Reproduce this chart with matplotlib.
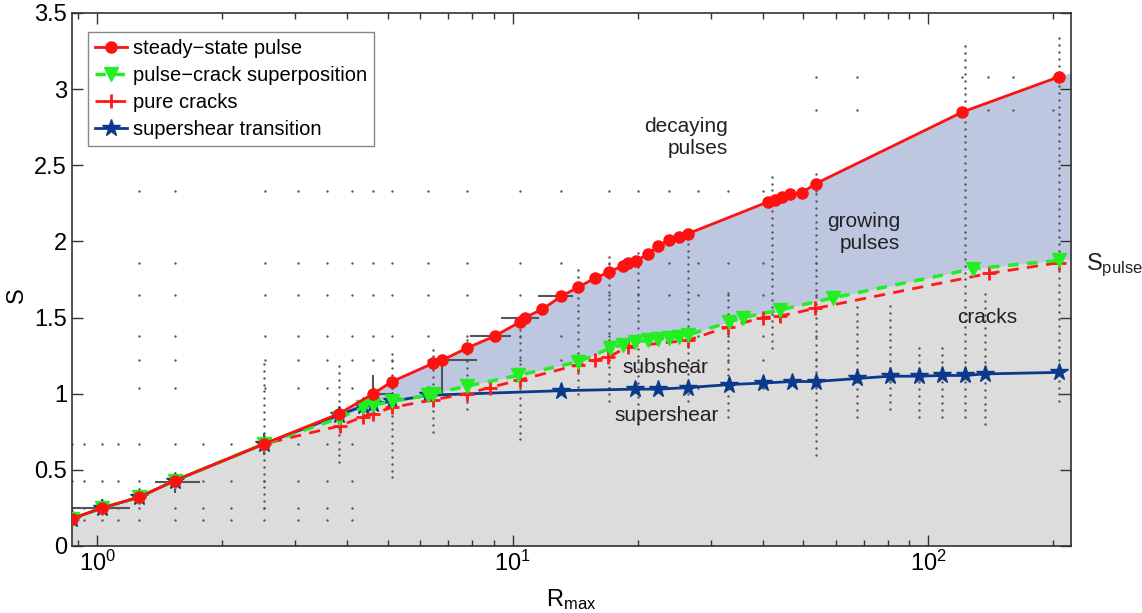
import numpy as np
import matplotlib
matplotlib.use('Agg')
import matplotlib.pyplot as plt
from matplotlib.ticker import FormatStrFormatter, LogLocator

plt.rcParams['font.family'] = ['Liberation Sans', 'DejaVu Sans']
plt.rcParams['mathtext.fontset'] = 'custom'
plt.rcParams['mathtext.rm'] = 'Liberation Sans'
plt.rcParams['mathtext.it'] = 'Liberation Sans'

# steady-state pulse
pulse_r = [0.87, 1.03, 1.26, 1.54, 2.52, 3.83, 4.62, 5.13, 6.44, 6.77, 7.77, 9.08,
           10.4, 10.7, 11.8, 13.1, 14.4, 15.8, 17.1, 18.4, 19.0, 19.8, 21.2, 22.4,
           23.8, 25.2, 26.4, 41.2, 42.8, 44.5, 46.5, 49.7, 53.7, 121, 206]
pulse_s = [0.18, 0.25, 0.32, 0.43, 0.67, 0.87, 1.00, 1.08, 1.20, 1.22, 1.30, 1.38,
           1.47, 1.50, 1.555, 1.64, 1.70, 1.76, 1.80, 1.84, 1.86, 1.87, 1.92, 1.97,
           2.01, 2.03, 2.05, 2.26, 2.27, 2.29, 2.31, 2.32, 2.38, 2.85, 3.08]

# pulse-crack superposition
sup_r = [0.87, 1.03, 1.26, 1.54, 2.52, 3.83, 4.37, 4.62, 5.13, 6.27, 6.44, 7.77,
         10.3, 14.4, 17.2, 18.4, 19.7, 21.2, 22.4, 23.8, 25.2, 26.4, 33.2, 35.9,
         44, 59.1, 128, 206]
sup_s = [0.18, 0.25, 0.32, 0.43, 0.67, 0.84, 0.91, 0.925, 0.95, 0.99, 1.0, 1.05,
         1.12, 1.21, 1.30, 1.32, 1.34, 1.35, 1.36, 1.365, 1.37, 1.385, 1.47, 1.50,
         1.55, 1.63, 1.82, 1.875]

# pure cracks
crack_r = [0.87, 1.03, 1.26, 1.54, 2.52, 3.85, 4.37, 4.62, 5.13, 6.44, 7.77, 8.8,
           10.4, 14.4, 15.8, 17, 19, 26.4, 33, 40, 44, 53.5, 140, 206]
crack_s = [0.18, 0.25, 0.32, 0.43, 0.67, 0.79, 0.85, 0.87, 0.91, 0.96, 1.0, 1.04,
           1.09, 1.19, 1.22, 1.24, 1.31, 1.35, 1.44, 1.50, 1.51, 1.56, 1.79, 1.86]

# supershear transition
trans_r = [0.87, 1.03, 1.26, 1.54, 2.52, 3.83, 4.37, 4.62, 5.13, 6.27, 13.1, 19.7,
           22.4, 26.4, 33.2, 40.1, 47, 53.7, 67.6, 81, 95, 108, 123, 137, 206]
trans_s = [0.18, 0.25, 0.32, 0.43, 0.67, 0.86, 0.92, 0.93, 0.95, 0.99, 1.02, 1.03,
           1.03, 1.04, 1.06, 1.07, 1.08, 1.08, 1.10, 1.115, 1.115, 1.12, 1.12, 1.13, 1.14]

# sparse grid of simulated (R_max, S) pairs
grid_r = [1.26, 1.54, 2.54, 3.05, 3.57, 4.1, 4.62, 5.13, 6.27, 7.77, 10.4, 13.1,
          17.1, 20, 23.8, 28, 33, 40, 53.7]
grid_s = [2.33, 1.86, 1.65, 1.38, 1.22, 1.04]
low_r = [0.87, 0.93, 1.03, 1.12, 1.26, 1.54, 1.8, 2.1, 2.52, 3.05, 3.57, 4.1]
low_s = [0.67, 0.43, 0.25, 0.17]
top_r = [53.7, 67.6, 121, 139, 160, 200]
top_s = [3.08, 2.86]

# dense columns of runs: R_max, lowest S, highest S
col_r = [2.52, 3.83, 5.13, 6.44, 7.77, 10.4, 14.4, 17.1, 20, 26.4, 33, 42, 53.7,
         67.6, 81, 95, 108, 123, 137, 206]
col_lo = [0.25, 0.55, 0.45, 0.75, 0.9, 0.7, 1.0, 0.95, 0.8, 0.95, 0.85, 1.3, 0.6,
          0.85, 0.9, 0.85, 0.85, 0.85, 0.8, 0.95]
col_hi = [1.22, 1.2, 1.3, 1.3, 1.35, 1.55, 1.85, 1.9, 1.95, 2.1, 1.7, 2.45, 2.45,
          1.6, 1.6, 1.3, 1.3, 3.3, 1.7, 3.35]
col_step = 0.045

# error bars on a few pulse points: R, S, R-, R+, S-, S+
err_r = [1.03, 1.54, 2.52, 4.62, 6.77, 9.08, 10.7, 13.1]
err_s = [0.25, 0.42, 0.67, 1.0, 1.22, 1.38, 1.50, 1.64]
err_rlo = [0.87, 1.38, 2.52, 4.62, 6.77, 7.9, 9.4, 11.5]
err_rhi = [1.2, 1.77, 2.52, 5.13, 8.2, 9.9, 11.6, 14.0]
err_slo = [0.21, 0.35, 0.60, 0.93, 1.0, 1.38, 1.50, 1.64]
err_shi = [0.31, 0.48, 0.74, 1.12, 1.25, 1.38, 1.50, 1.64]

x_lim = (0.87, 221)

fig = plt.figure(figsize=(11.42, 6.13), dpi=100)
ax = fig.add_axes([0.063, 0.1093, 0.875, 0.8695])
ax.set_xscale('log')


def extend(r, s):
    # stretch a curve out to the right edge of the axes in log space
    lr = np.log10(r)
    slope = (s[-1] - s[-2]) / (lr[-1] - lr[-2])
    r_end = x_lim[1]
    s_end = s[-1] + slope * (np.log10(r_end) - lr[-1])
    return np.append(r, r_end), np.append(s, s_end)


fr, fs = extend(np.array(pulse_r), np.array(pulse_s))
gr, gs = extend(np.array(sup_r), np.array(sup_s))
xx = np.logspace(np.log10(x_lim[0]), np.log10(x_lim[1]), 800)
top = np.interp(np.log10(xx), np.log10(fr), fs)
mid = np.interp(np.log10(xx), np.log10(gr), gs)
ax.fill_between(xx, 0, mid, color='#dcdcdc', lw=0, zorder=0)
ax.fill_between(xx, mid, top, color='#bdc7e0', lw=0, zorder=0)

# background runs
dot_kw = dict(s=3, color='#555555', lw=0, zorder=1)
gx, gy = np.meshgrid(grid_r, grid_s)
ax.scatter(gx.ravel(), gy.ravel(), **dot_kw)
lx, ly = np.meshgrid(low_r, low_s)
ax.scatter(lx.ravel(), ly.ravel(), **dot_kw)
tx, ty = np.meshgrid(top_r, top_s)
ax.scatter(tx.ravel(), ty.ravel(), **dot_kw)
for r, lo, hi in zip(col_r, col_lo, col_hi):
    ss = np.arange(lo, hi, col_step)
    ax.scatter(np.full(len(ss), r), ss, **dot_kw)

err_r = np.array(err_r)
err_s = np.array(err_s)
ax.errorbar(err_r, err_s,
            xerr=[err_r - np.array(err_rlo), np.array(err_rhi) - err_r],
            yerr=[err_s - np.array(err_slo), np.array(err_shi) - err_s],
            fmt='none', ecolor='#555555', elinewidth=1.5, capsize=0, zorder=2)

ax.plot(trans_r, trans_s, '-', color='#0b3a8c', lw=2, marker='*', ms=13,
        label='supershear transition', zorder=3)
ax.plot(crack_r, crack_s, '--', color='#ff1a1a', lw=2, marker='+', ms=10, mew=2,
        dashes=(4, 3), label='pure cracks', zorder=4)
ax.plot(sup_r, sup_s, '--', color='#22ee22', lw=2.5, marker='v', ms=10,
        dashes=(3, 2.5), label='pulse\u2212crack superposition', zorder=5)
ax.plot(pulse_r, pulse_s, '-', color='#ff1111', lw=2, marker='o', ms=8,
        label='steady\u2212state pulse', zorder=6)

handles, labels = ax.get_legend_handles_labels()
leg = ax.legend(handles[::-1], labels[::-1], loc='upper left',
                bbox_to_anchor=(0.016, 0.965), borderaxespad=0, fontsize=14.5,
                handlelength=1.6, handletextpad=0.3, labelspacing=0.4,
                borderpad=0.35, numpoints=1, fancybox=False, framealpha=1)
leg.get_frame().set_edgecolor('#888888')
leg.get_frame().set_linewidth(1)

txt_kw = dict(fontsize=15, color='#222222', zorder=7)
ax.text(33.0, 2.68, 'decaying\npulses', ha='right', va='center', **txt_kw)
ax.text(85.7, 2.06, 'growing\npulses', ha='right', va='center', **txt_kw)
ax.text(139, 1.50, 'cracks', ha='center', va='center', **txt_kw)
ax.text(23.3, 1.17, 'subshear', ha='center', va='center', **txt_kw)
ax.text(23.5, 0.86, 'supershear', ha='center', va='center', **txt_kw)
ax.text(240, 1.84, r'$\mathrm{S}_{\mathrm{pulse}}$', ha='left', va='center',
        fontsize=17, color='#222222', clip_on=False)

ax.set_xlim(*x_lim)
ax.set_ylim(0, 3.5)
ax.set_yticks(np.arange(0, 3.51, 0.5))
ax.yaxis.set_major_formatter(FormatStrFormatter('%g'))
ax.xaxis.set_minor_locator(LogLocator(base=10, subs=np.arange(2, 10)))
ax.tick_params(which='both', direction='in', top=True, right=True,
               labelsize=17, color='#333333')
ax.tick_params(which='major', length=8, width=1)
ax.tick_params(which='minor', length=4, width=1)
for sp in ax.spines.values():
    sp.set_color('#333333')
    sp.set_linewidth(1.2)

ax.set_xlabel(r'$\mathrm{R}_{\mathrm{max}}$', fontsize=17, labelpad=8)
ax.set_ylabel('S', fontsize=17)
ax.yaxis.set_label_coords(-0.044, 0.47)

fig.savefig('out.png', dpi=100)
